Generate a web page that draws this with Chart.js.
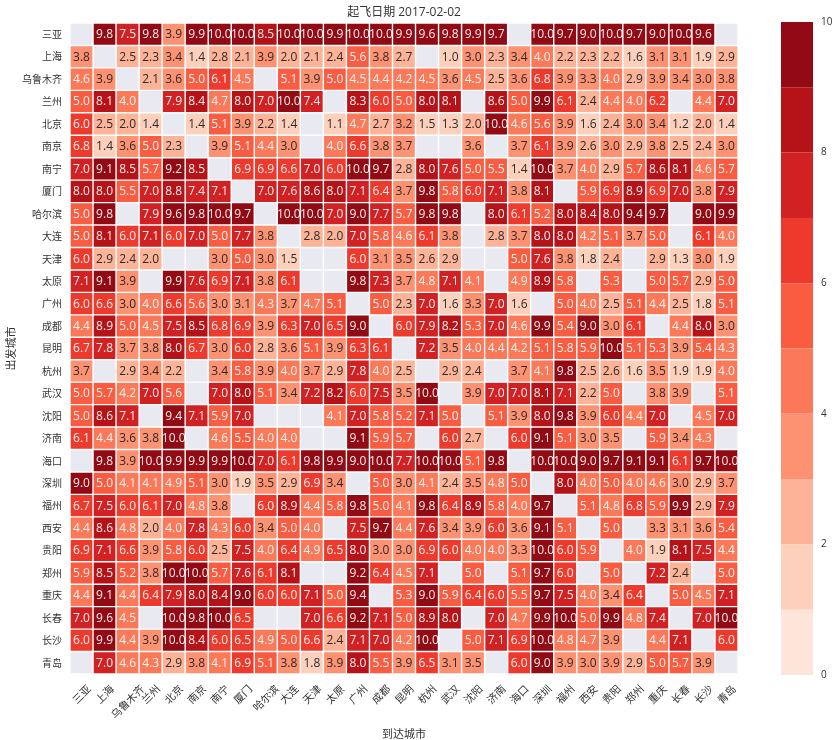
<!DOCTYPE html>
<html>
<head>
<meta charset="utf-8">
<title>起飞日期 2017-02-02</title>
<script src="https://cdn.jsdelivr.net/npm/chart.js@4"></script>
<style>
    html, body { margin: 0; padding: 0; background: #fff; }
    #wrap { position: relative; width: 838px; height: 740px; overflow: hidden; }
    canvas { position: absolute; top: 0; }
    #heat { left: 0; }
    #bar { left: 750px; }
</style>
</head>
<body>
<div id="wrap">
    <canvas id="heat" width="760" height="740"></canvas>
    <canvas id="bar" width="88" height="740"></canvas>
</div>
<script>
var cities = ['三亚', '上海', '乌鲁木齐', '兰州', '北京', '南京', '南宁', '厦门', '哈尔滨', '大连', '天津', '太原', '广州', '成都', '昆明', '杭州', '武汉', '沈阳', '济南', '海口', '深圳', '福州', '西安', '贵阳', '郑州', '重庆', '长春', '长沙', '青岛'];
var _ = null;
var discounts = [
    [_, 9.8, 7.5, 9.8, 3.9, 9.9, 10, 10, 8.5, 10, 10, 9.9, 10, 10, 9.9, 9.6, 9.8, 9.9, 9.7, _, 10, 9.7, 9.0, 10, 9.7, 9.0, 10, 9.6, _],
    [3.8, _, 2.5, 2.3, 3.4, 1.4, 2.8, 2.1, 3.9, 2.0, 2.1, 2.4, 5.6, 3.8, 2.7, _, 1.0, 3.0, 2.3, 3.4, 4.0, 2.2, 2.3, 2.2, 1.6, 3.1, 3.1, 1.9, 2.9],
    [4.6, 3.9, _, 2.1, 3.6, 5.0, 6.1, 4.5, _, 5.1, 3.9, 5.0, 4.5, 4.4, 4.2, 4.5, 3.6, 4.5, 2.5, 3.6, 6.8, 3.9, 3.3, 4.0, 2.9, 3.9, 3.4, 3.0, 3.8],
    [5.0, 8.1, 4.0, _, 7.9, 8.4, 4.7, 8.0, 7.0, 10, 7.4, _, 8.3, 6.0, 5.0, 8.0, 8.1, _, 8.6, 5.0, 9.9, 6.1, 2.4, 4.4, 4.0, 6.2, _, 4.4, 7.0],
    [6.0, 2.5, 2.0, 1.4, _, 1.4, 5.1, 3.9, 2.2, 1.4, _, 1.1, 4.7, 2.7, 3.2, 1.5, 1.3, 2.0, 10, 4.6, 5.6, 3.9, 1.6, 2.4, 3.0, 3.4, 1.2, 2.0, 1.4],
    [6.8, 1.4, 3.6, 5.0, 2.3, _, 3.9, 5.1, 4.4, 3.0, _, 4.0, 6.6, 3.8, 3.7, _, _, 3.6, _, 3.7, 6.1, 3.9, 2.6, 3.0, 2.9, 3.8, 2.5, 2.4, 3.0],
    [7.0, 9.1, 8.5, 5.7, 9.2, 8.5, _, 6.9, 6.9, 6.6, 7.0, 6.0, 10, 9.7, 2.8, 8.0, 7.6, 5.0, 5.5, 1.4, 10, 3.7, 4.0, 2.9, 5.7, 8.6, 8.1, 4.6, 5.7],
    [8.0, 8.0, 5.5, 7.0, 8.8, 7.4, 7.1, _, 7.0, 7.6, 8.6, 8.0, 7.1, 6.4, 3.7, 9.8, 5.8, 6.0, 7.1, 3.8, 8.1, _, 5.9, 6.9, 8.9, 6.9, 7.0, 3.8, 7.9],
    [5.0, 9.8, _, 7.9, 9.6, 9.8, 10, 9.7, _, 10, 10, 7.0, 9.0, 7.7, 5.7, 9.8, 9.8, _, 8.0, 6.1, 5.2, 8.0, 8.4, 8.0, 9.4, 9.7, _, 9.0, 9.9],
    [5.0, 8.1, 6.0, 7.1, 6.0, 7.0, 5.0, 7.7, 3.8, _, 2.8, 2.0, 7.0, 5.8, 4.6, 6.1, 3.8, _, 2.8, 3.7, 8.0, 8.0, 4.2, 5.1, 3.7, 5.0, _, 6.1, 4.0],
    [6.0, 2.9, 2.4, 2.0, _, _, 3.0, 5.0, 3.0, 1.5, _, _, 6.0, 3.1, 3.5, 2.6, 2.9, _, _, 5.0, 7.6, 3.8, 1.8, 2.4, _, 2.9, 1.3, 3.0, 1.9],
    [7.1, 9.1, 3.9, _, 9.9, 7.6, 6.9, 7.1, 3.8, 6.1, _, _, 9.8, 7.3, 3.7, 4.8, 7.1, 4.1, _, 4.9, 8.9, 5.8, _, 5.3, _, 5.0, 5.7, 2.9, 5.0],
    [6.0, 6.6, 3.0, 4.0, 6.6, 5.6, 3.0, 3.1, 4.3, 3.7, 4.7, 5.1, _, 5.0, 2.3, 7.0, 1.6, 3.3, 7.0, 1.6, _, 5.0, 4.0, 2.5, 5.1, 4.4, 2.5, 1.8, 5.1],
    [4.4, 8.9, 5.0, 4.5, 7.5, 8.5, 6.8, 6.9, 3.9, 6.3, 7.0, 6.5, 9.0, _, 6.0, 7.9, 8.2, 5.3, 7.0, 4.6, 9.9, 5.4, 9.0, 3.0, 6.1, _, 4.4, 8.0, 3.0],
    [6.7, 7.8, 3.7, 3.8, 8.0, 6.7, 3.0, 6.0, 2.8, 3.6, 5.1, 3.9, 6.3, 6.1, _, 7.2, 3.5, 4.0, 4.4, 4.2, 5.1, 5.8, 5.9, 10, 5.1, 5.3, 3.9, 5.4, 4.3],
    [3.7, _, 2.9, 3.4, 2.2, _, 3.4, 5.8, 3.9, 4.0, 3.7, 2.9, 7.8, 4.0, 2.5, _, 2.9, 2.4, _, 3.7, 4.1, 9.8, 2.5, 2.6, 1.6, 3.5, 1.9, 1.9, 4.0],
    [5.0, 5.7, 4.2, 7.0, 5.6, _, 7.0, 8.0, 5.1, 3.4, 7.2, 8.2, 6.0, 7.5, 3.5, 10, _, 3.9, 7.0, 7.0, 8.1, 7.1, 2.2, 5.0, _, 3.8, 3.9, _, 5.1],
    [5.0, 8.6, 7.1, _, 9.4, 7.1, 5.9, 7.0, _, _, _, 4.1, 7.0, 5.8, 5.2, 7.1, 5.0, _, 5.1, 3.9, 8.0, 9.8, 3.9, 6.0, 4.4, 7.0, _, 4.5, 7.0],
    [6.1, 4.4, 3.6, 3.8, 10, _, 4.6, 5.5, 4.0, 4.0, _, _, 9.1, 5.9, 5.7, _, 6.0, 2.7, _, 6.0, 9.1, 5.1, 3.0, 3.5, _, 5.9, 3.4, 4.3, _],
    [_, 9.8, 3.9, 10, 9.9, 9.9, 9.9, 10, 7.0, 6.1, 9.8, 9.9, 9.0, 10, 7.7, 10, 10, 5.1, 9.8, _, 10, 10, 9.0, 9.7, 9.1, 9.1, 6.1, 9.7, 10],
    [9.0, 5.0, 4.1, 4.1, 4.9, 5.1, 3.0, 1.9, 3.5, 2.9, 6.9, 3.4, _, 5.0, 3.0, 4.1, 2.4, 3.5, 4.8, 5.0, _, 8.0, 4.0, 5.0, 4.0, 4.6, 3.0, 2.9, 3.7],
    [6.7, 7.5, 6.0, 6.1, 7.0, 4.8, 3.8, _, 6.0, 8.9, 4.4, 5.8, 9.8, 5.0, 4.1, 9.8, 6.4, 8.9, 5.8, 4.0, 9.7, _, 5.1, 4.8, 6.8, 5.9, 9.9, 2.9, 7.9],
    [4.4, 8.6, 4.8, 2.0, 4.0, 7.8, 4.3, 6.0, 3.4, 5.0, 4.0, _, 7.5, 9.7, 4.4, 7.6, 3.4, 3.9, 6.0, 3.6, 9.1, 5.1, _, 5.0, _, 3.3, 3.1, 3.6, 5.4],
    [6.9, 7.1, 6.6, 3.9, 5.8, 6.0, 2.5, 7.5, 4.0, 6.4, 4.9, 6.5, 8.0, 3.0, 3.0, 6.9, 6.0, 4.0, 4.0, 3.3, 10, 6.0, 5.9, _, 4.0, 1.9, 8.1, 7.5, 4.4],
    [5.9, 8.5, 5.2, 3.8, 10, 10, 5.7, 7.6, 6.1, 8.1, _, _, 9.2, 6.4, 4.5, 7.1, _, 5.0, _, 5.1, 9.7, 6.0, _, 5.0, _, 7.2, 2.4, _, 5.0],
    [4.4, 9.1, 4.4, 6.4, 7.9, 8.0, 8.4, 9.0, 6.0, 6.0, 7.1, 5.0, 9.4, _, 5.3, 9.0, 5.9, 6.4, 6.0, 5.5, 9.7, 7.5, 4.0, 3.4, 6.4, _, 5.0, 4.5, 7.1],
    [7.0, 9.6, 4.5, _, 10, 9.8, 10, 6.5, _, _, 7.0, 6.6, 9.2, 7.1, 5.0, 8.9, 8.0, _, 7.0, 4.7, 9.9, 10, 5.0, 9.9, 4.8, 7.4, _, 7.0, 10],
    [6.0, 9.9, 4.4, 3.9, 10, 8.4, 6.0, 6.5, 4.9, 5.0, 6.6, 2.4, 7.1, 7.0, 4.2, 10, _, 5.0, 7.1, 6.9, 10, 4.8, 4.7, 3.9, _, 4.4, 7.1, _, 6.0],
    [_, 7.0, 4.6, 4.3, 2.9, 3.8, 4.1, 6.9, 5.1, 3.8, 1.8, 3.9, 8.0, 5.5, 3.9, 6.5, 3.1, 3.5, _, 6.0, 9.0, 3.9, 3.0, 3.9, 2.9, 5.0, 5.7, 3.9, _]
];
var palette = ['#fee5d9', '#fdd0bc', '#fcb398', '#fc9272', '#fb7858', '#fa5c42', '#ee3a2c', '#d22123', '#b61319', '#920a13'];
var barTicks = [0, 2, 4, 6, 8, 10];

var FONT = '"Open Sans", "Noto Sans CJK SC", sans-serif';
var CJK = '"Noto Sans CJK SC", sans-serif';
var TEXT = '#333333';

function cellColor(v) {
    if (v === null) return '#e9e9f1';
    return palette[Math.min(Math.floor(v), palette.length - 1)];
}

// Cell numbers and the rotated x labels, which Chart.js can only anchor by their end
var heatText = {
    id: 'heatText',
    afterDatasetsDraw: function (chart) {
        var ctx = chart.ctx;
        var x = chart.scales.x;
        ctx.save();
        ctx.textAlign = 'center';
        ctx.textBaseline = 'middle';
        ctx.font = '12px ' + FONT;
        discounts.forEach(function (row, r) {
            var cells = chart.getDatasetMeta(r).data;
            row.forEach(function (v, c) {
                if (v === null) return;
                ctx.fillStyle = v < 4 ? '#2b2b2b' : '#ffffff';
                ctx.globalAlpha = v < 4 ? 1 : 0.93;
                ctx.fillText(v.toFixed(1), cells[c].x, (cells[c].y + cells[c].base) / 2 + 0.5);
            });
        });
        ctx.globalAlpha = 1;
        ctx.fillStyle = TEXT;
        ctx.font = '10.5px ' + CJK;
        cities.forEach(function (name, c) {
            var w = ctx.measureText(name).width;
            var half = (w + 10.5) * Math.SQRT1_2 / 2;
            ctx.save();
            ctx.translate(x.getPixelForValue(c), 683 + half);
            ctx.rotate(-Math.PI / 4);
            ctx.fillText(name, 0, 0);
            ctx.restore();
        });
        ctx.restore();
    }
};

new Chart(document.getElementById('heat'), {
    type: 'bar',
    plugins: [heatText],
    data: {
        labels: cities,
        datasets: discounts.map(function (row, r) {
            return {
                label: cities[r],
                data: row.map(function () { return [r, r + 1]; }),
                backgroundColor: row.map(cellColor),
                borderColor: '#ffffff',
                borderWidth: 0.7,
                borderSkipped: false,
                inflateAmount: 0,
                grouped: false,
                barPercentage: 1,
                categoryPercentage: 1
            };
        })
    },
    options: {
        responsive: false,
        animation: false,
        events: [],
        layout: { padding: { top: 0, right: 22, bottom: 0, left: 0 } },
        plugins: {
            legend: { display: false },
            tooltip: { enabled: false },
            title: {
                display: true,
                fullSize: false,
                text: '起飞日期 2017-02-02',
                color: TEXT,
                font: { family: FONT, size: 12, weight: 'normal' },
                padding: { top: 5, bottom: 3.6 }
            }
        },
        scales: {
            x: {
                grid: { display: false, drawTicks: false },
                border: { display: false },
                ticks: { display: false },
                afterFit: function (s) { s.height = 66; },
                title: {
                    display: true,
                    text: '到达城市',
                    color: TEXT,
                    font: { family: CJK, size: 11 },
                    padding: { top: 41, bottom: 0 }
                }
            },
            y: {
                reverse: true,
                min: 0,
                max: cities.length,
                grid: { display: false, drawTicks: false },
                border: { display: false },
                afterBuildTicks: function (s) {
                    s.ticks = cities.map(function (name, i) { return { value: i + 0.5 }; });
                },
                afterFit: function (s) { s.width = 70; },
                ticks: {
                    autoSkip: false,
                    color: TEXT,
                    padding: 8,
                    font: { family: CJK, size: 10 },
                    callback: function (value, i) { return cities[i]; }
                },
                title: {
                    display: true,
                    text: '出发城市',
                    color: TEXT,
                    font: { family: CJK, size: 11 },
                    padding: { top: 4, bottom: 0 }
                }
            }
        }
    }
});

// Colour bar, one stacked unit per palette step
new Chart(document.getElementById('bar'), {
    type: 'bar',
    data: {
        labels: [''],
        datasets: palette.map(function (color) {
            return { data: [1], backgroundColor: color, barPercentage: 1, categoryPercentage: 1, inflateAmount: 0 };
        })
    },
    options: {
        responsive: false,
        animation: false,
        events: [],
        layout: { padding: { top: 22, right: 0, bottom: 65, left: 31 } },
        plugins: { legend: { display: false }, tooltip: { enabled: false } },
        scales: {
            x: { stacked: true, display: false },
            y: {
                stacked: true,
                position: 'right',
                min: 0,
                max: 10,
                grid: { display: false, drawTicks: false },
                border: { display: false },
                afterBuildTicks: function (s) {
                    s.ticks = barTicks.map(function (v) { return { value: v }; });
                },
                afterFit: function (s) { s.width = 25; },
                ticks: {
                    color: TEXT,
                    padding: 8,
                    font: { family: FONT, size: 10 }
                }
            }
        }
    }
});
</script>
</body>
</html>
